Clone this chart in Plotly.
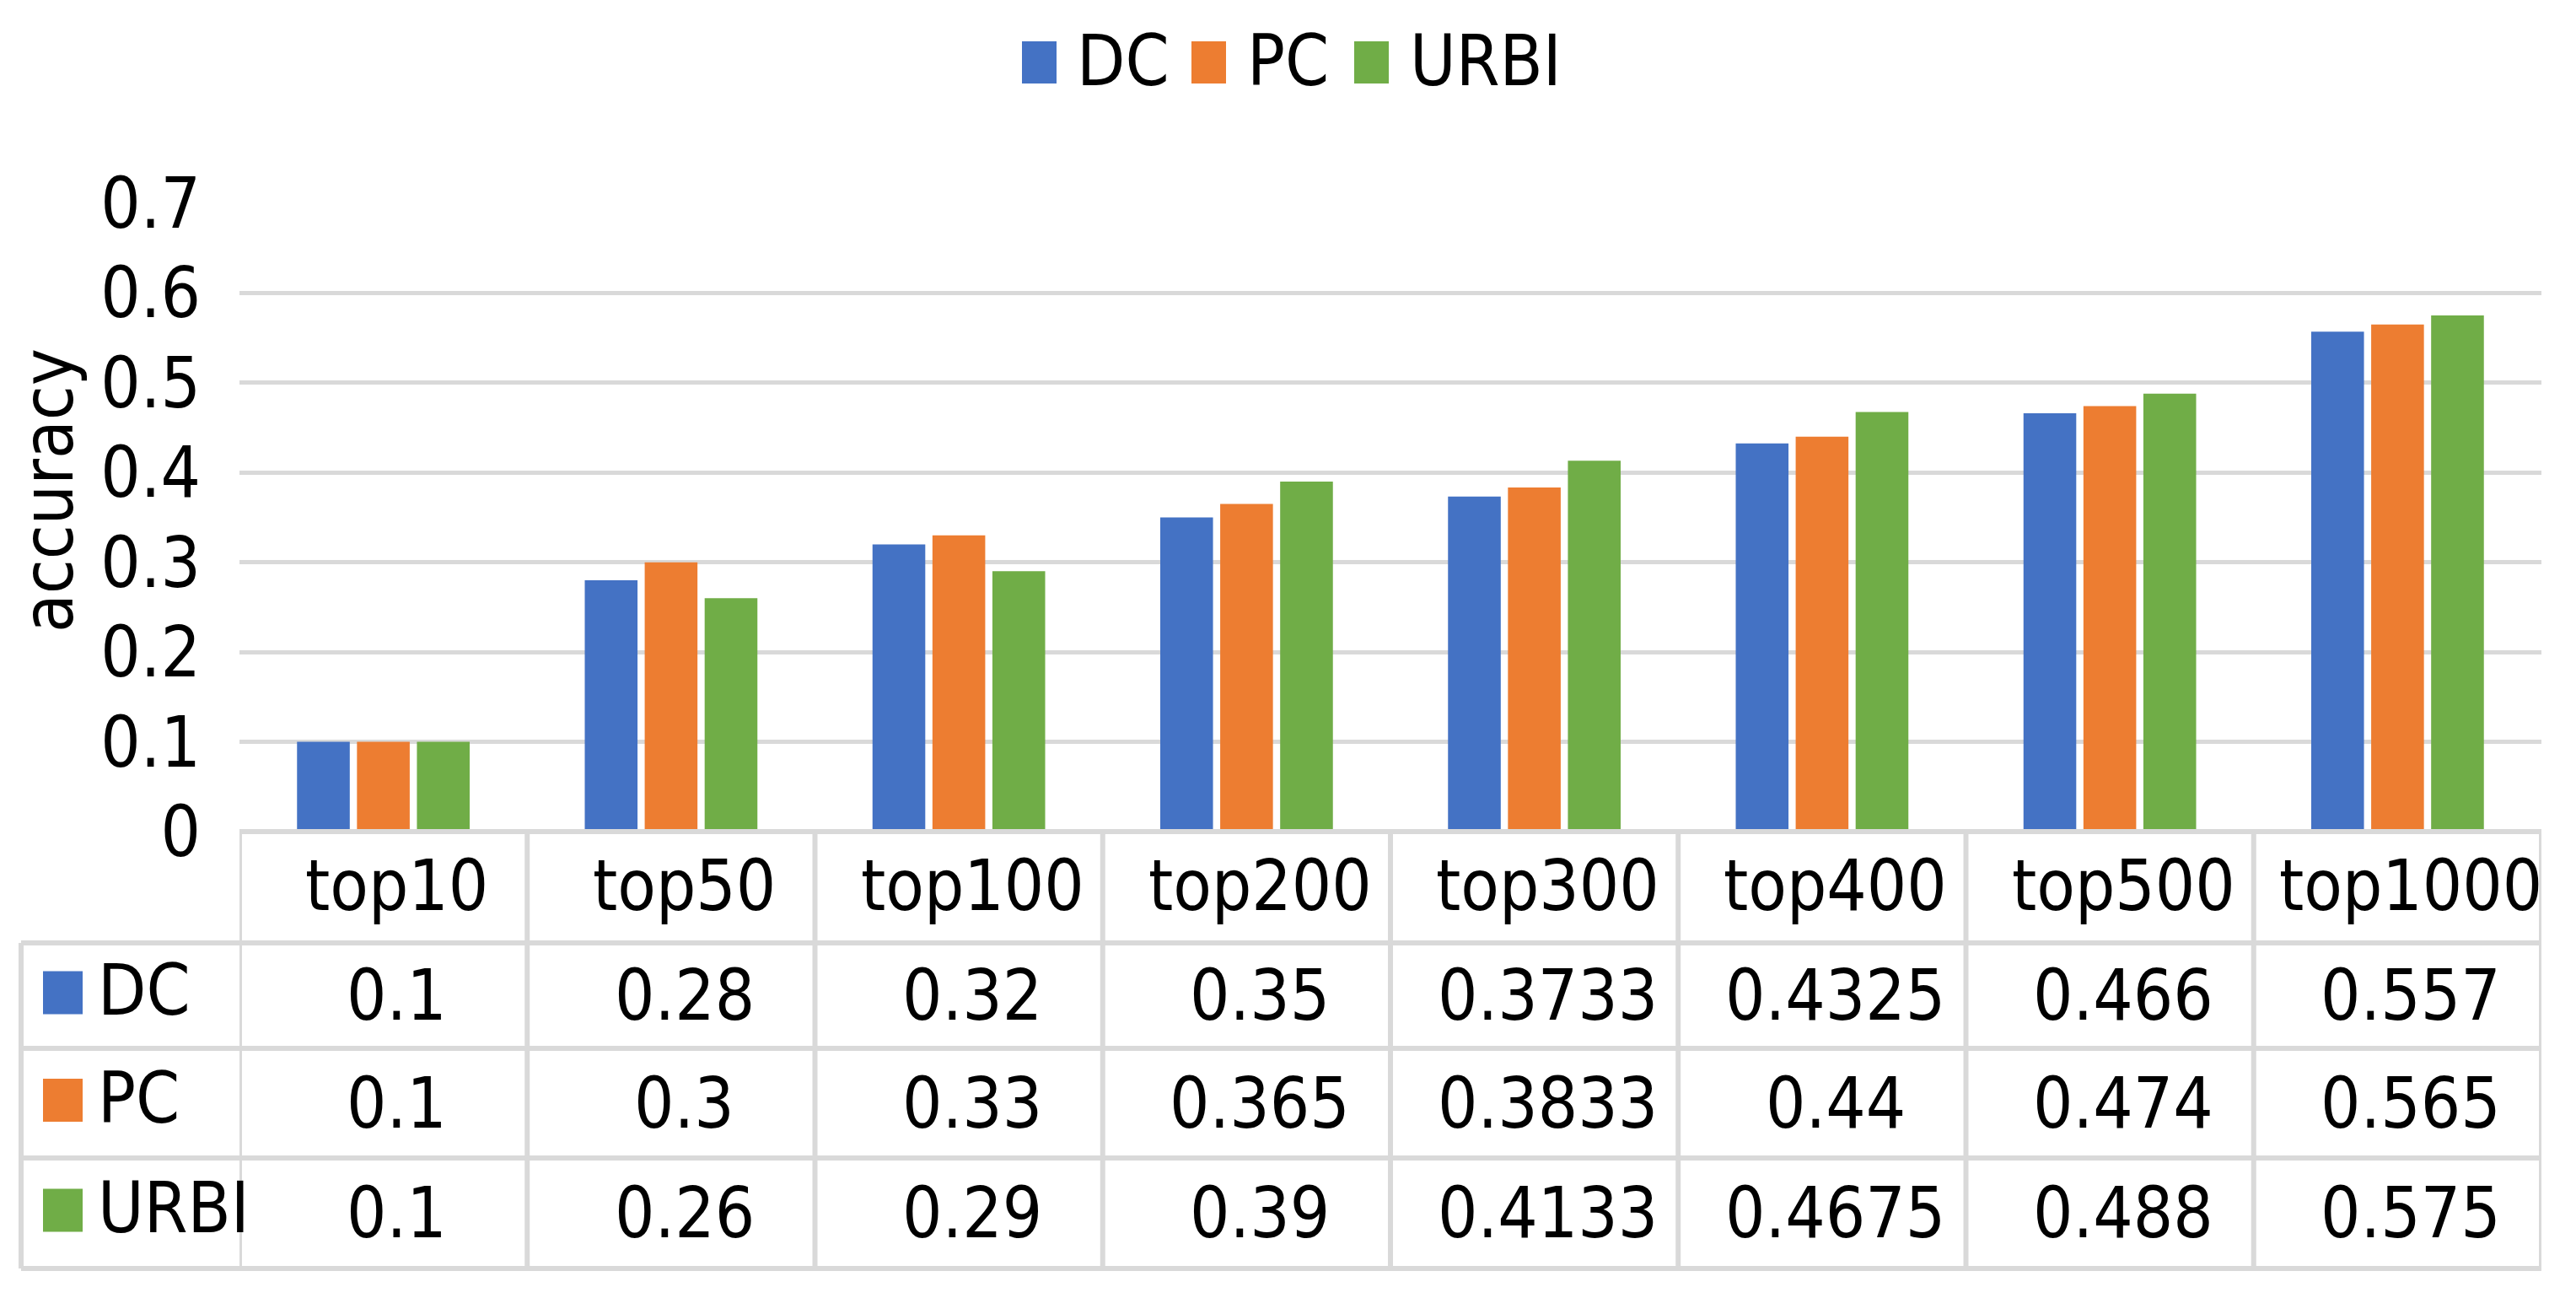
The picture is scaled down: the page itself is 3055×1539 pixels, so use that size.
import plotly.graph_objects as go

categories = ["top10", "top50", "top100", "top200", "top300", "top400", "top500", "top1000"]
series_names = ["DC", "PC", "URBI"]
dc_values = [0.1, 0.28, 0.32, 0.35, 0.3733, 0.4325, 0.466, 0.557]
pc_values = [0.1, 0.3, 0.33, 0.365, 0.3833, 0.44, 0.474, 0.565]
urbi_values = [0.1, 0.26, 0.29, 0.39, 0.4133, 0.4675, 0.488, 0.575]
y_ticks = [0, 0.1, 0.2, 0.3, 0.4, 0.5, 0.6, 0.7]
y_title = "accuracy"

colors = ["#4472C4", "#ED7D31", "#70AD47"]
series_values = [dc_values, pc_values, urbi_values]

W, H = 3055, 1539
PL, PR, PT, PB = 284, 3014, 241, 986
FONT = "DejaVu Sans Condensed, DejaVu Sans"
FS = 83
GRID = "#D9D9D9"


def px(x):
    return (x - PL) / (PR - PL)


def py(y):
    return (PB - y) / (PB - PT)


fig = go.Figure()
for name, vals, col in zip(series_names, series_values, colors):
    fig.add_trace(go.Bar(name=name, x=categories, y=vals, marker=dict(color=col, line=dict(width=0)),
                         showlegend=False))

shapes = []
annotations = []

# custom legend on top
leg_sq_x = [1212, 1413, 1606]
leg_tx_x = [1275, 1477, 1670]
for i, name in enumerate(series_names):
    shapes.append(dict(type="rect", xref="paper", yref="paper",
                       x0=px(leg_sq_x[i]), x1=px(leg_sq_x[i] + 41), y0=py(99), y1=py(49),
                       fillcolor=colors[i], line=dict(width=0), layer="above"))
    annotations.append(dict(text=name, xref="paper", yref="paper", x=px(leg_tx_x[i]), y=py(72),
                            xanchor="left", yanchor="middle", showarrow=False,
                            font=dict(family=FONT, size=FS, color="black")))

# y-axis title
annotations.append(dict(text=y_title, xref="paper", yref="paper", x=px(57), y=py(582), textangle=-90,
                        xanchor="center", yanchor="middle", showarrow=False,
                        font=dict(family=FONT, size=FS, color="black")))

# data table
row_edges = [986, 1118, 1243, 1373, 1504]
table_left = 25
LW = 6
TSHIFT = 16
# horizontal lines
shapes.append(dict(type="line", xref="paper", yref="paper", x0=px(PL), x1=px(PR), y0=py(row_edges[0]), y1=py(row_edges[0]),
                   line=dict(color=GRID, width=LW)))
for ye in row_edges[1:]:
    shapes.append(dict(type="line", xref="paper", yref="paper", x0=px(table_left), x1=px(PR), y0=py(ye), y1=py(ye),
                       line=dict(color=GRID, width=LW)))
# vertical lines at category boundaries
for i in range(len(categories) + 1):
    shapes.append(dict(type="line", xref="x", yref="paper", x0=i - 0.5, x1=i - 0.5,
                       y0=py(row_edges[0]), y1=py(row_edges[-1]), line=dict(color=GRID, width=LW)))
shapes.append(dict(type="line", xref="paper", yref="paper", x0=px(table_left), x1=px(table_left),
                   y0=py(row_edges[1]), y1=py(row_edges[-1]), line=dict(color=GRID, width=LW)))

# header texts
for c in categories:
    annotations.append(dict(text=c, xref="x", yref="paper", x=c, y=py((row_edges[0] + row_edges[1]) / 2 - 2),
                            xanchor="center", yanchor="middle", showarrow=False, xshift=TSHIFT,
                            font=dict(family=FONT, size=FS, color="black")))
# rows
for r, (name, vals, col) in enumerate(zip(series_names, series_values, colors)):
    yc = (row_edges[r + 1] + row_edges[r + 2]) / 2
    shapes.append(dict(type="rect", xref="paper", yref="paper", x0=px(51), x1=px(98),
                       y0=py(yc + 22), y1=py(yc - 29), fillcolor=col, line=dict(width=0)))
    annotations.append(dict(text=name, xref="paper", yref="paper", x=px(114), y=py(yc - 6),
                            xanchor="left", yanchor="middle", showarrow=False,
                            font=dict(family=FONT, size=FS, color="black")))
    for c, v in zip(categories, vals):
        annotations.append(dict(text=f"{v:g}", xref="x", yref="paper", x=c, y=py(yc),
                                xanchor="center", yanchor="middle", showarrow=False, xshift=TSHIFT,
                                font=dict(family=FONT, size=FS, color="black")))

fig.update_layout(
    width=W, height=H,
    margin=dict(l=PL, r=W - PR, t=PT, b=H - PB, pad=0),
    paper_bgcolor="white", plot_bgcolor="white",
    barmode="group", bargap=0.375, bargroupgap=0.12,
    font=dict(family=FONT, size=FS, color="black"),
    shapes=shapes, annotations=annotations,
    xaxis=dict(showticklabels=False, showgrid=False, zeroline=False, showline=False, ticks="",
               range=[-0.5, len(categories) - 0.5]),
    yaxis=dict(range=[0, 0.7], tickvals=y_ticks, ticktext=[f"{t:g}" for t in y_ticks],
               showgrid=True, gridcolor=GRID, gridwidth=5, zeroline=False, showline=False,
               ticks="", ticklabelstandoff=45,
               tickfont=dict(family=FONT, size=FS, color="black")),
)

fig.write_html("out.html", config={"displayModeBar": False},
               post_script="document.body.style.margin='0';document.body.style.overflow='hidden';")
